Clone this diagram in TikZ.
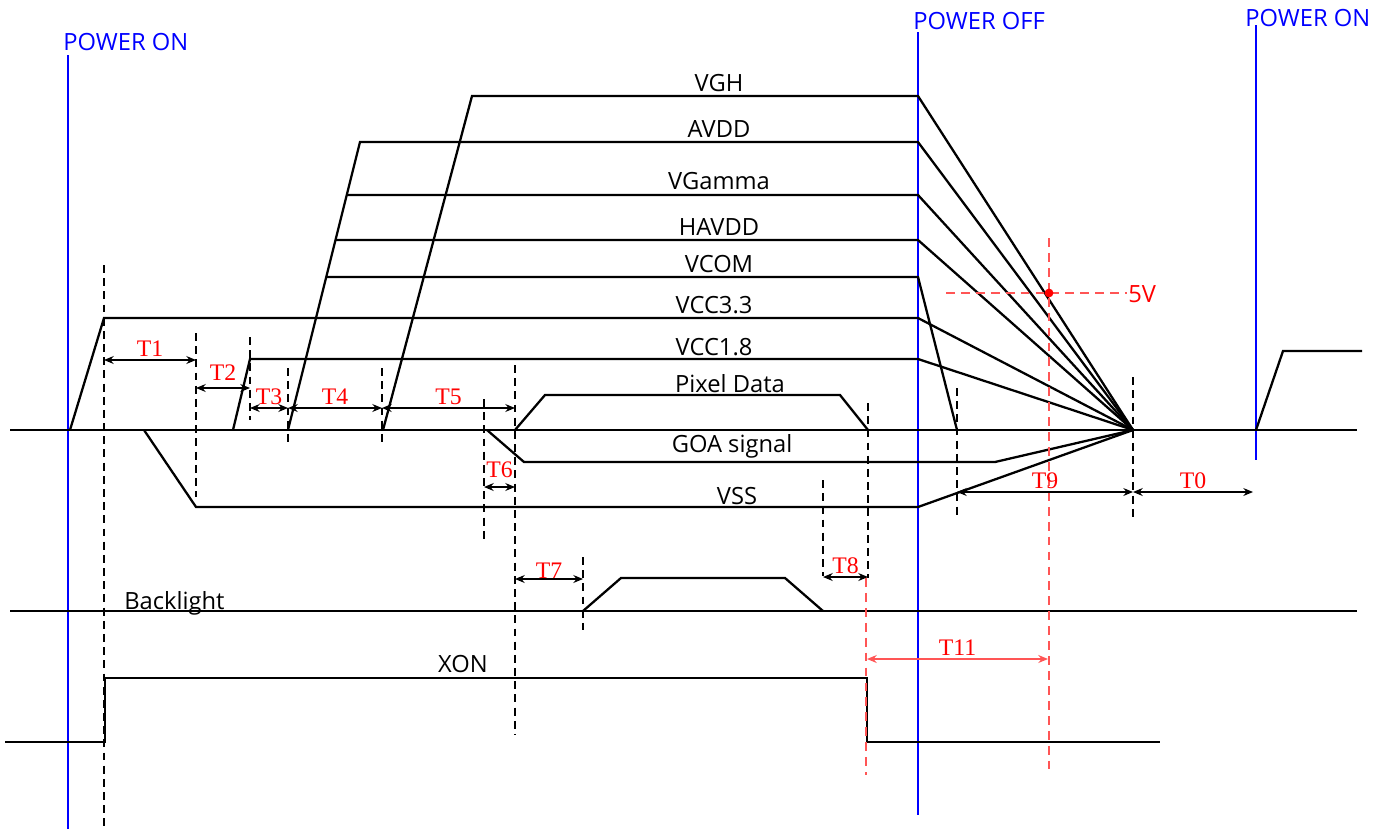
\documentclass[tikz,border=0pt]{standalone}
\usepackage{fontspec}
\usepackage{xcolor}
\usepackage{tikz}
\usetikzlibrary{arrows.meta, calc}
\newfontfamily\sigfont{Open Sans}
\newfontfamily\tfont{Liberation Serif}
\definecolor{pwrblue}{RGB}{0, 0, 255}
\definecolor{markred}{RGB}{255, 0, 0}
\definecolor{guidered}{RGB}{255, 85, 85}

\begin{document}
\begin{tikzpicture}[x=0.02cm, y=-0.02cm,
    sig/.style={line width=1.3pt, line join=miter},
    pwr/.style={pwrblue, line width=1.6pt},
    guide/.style={line width=0.6pt, dash pattern=on 4.5pt off 3pt},
    redguide/.style={guidered, line width=0.9pt, dash pattern=on 5pt off 3.5pt},
    dim/.style={{Stealth[length=5.5pt,width=4.5pt]}-{Stealth[length=5.5pt,width=4.5pt]}, line width=0.7pt},
    lbl/.style={font=\sigfont\fontsize{13.5}{16}\selectfont, inner sep=0pt},
    tlbl/.style={text=markred, font=\tfont\fontsize{13.5}{15}\selectfont, inner sep=0pt}]

    \useasboundingbox (0,0) rectangle (1389,829);

    % Power events (blue markers)
    \draw[pwr] (68,55) -- (68,829);
    \draw[pwr] (918,32) -- (918,815);
    \draw[pwr] (1256,25) -- (1256,460);
    \node[lbl, text=pwrblue, anchor=west] (onA) at (63,42) {POWER ON};
    \node[lbl, text=pwrblue, anchor=west] (off) at (913,21) {POWER OFF};
    \node[lbl, text=pwrblue, anchor=west] (onB) at (1245,18) {POWER ON};

    % Ground level and the point where all rails discharge to
    \coordinate (End) at (1133,430);
    \draw[sig] (10,430) -- (1357,430);

    % Supply rails
    \path (288,430) coordinate (avL) (360,142) coordinate (avT);
    \draw[sig] (383,430) -- (472,96) -- (918,96) -- (End);
    \draw[sig] (avL) -- (avT) -- (918,142) -- (End);
    \draw[sig] ($(avL)!0.816!(avT)$) -- (918,195) -- (End);
    \draw[sig] ($(avL)!0.660!(avT)$) -- (918,240) -- (End);
    \draw[sig] ($(avL)!0.531!(avT)$) -- (918,277) -- (957,430);
    \draw[sig] (70,430) -- (104,318) -- (918,318) -- (End);
    \draw[sig] (233,430) -- (250,359) -- (918,359) -- (End);
    \draw[sig] (487,430) -- (524,462) -- (995,462) -- (End);
    \draw[sig] (144,430) -- (196,507) -- (918,507) -- (End);
    \draw[sig] (515,430) -- (545,395) -- (840,395) -- (868,430);
    \draw[sig] (1256,430) -- (1283,351) -- (1362,351);

    \node[lbl] (vgh)   at (719,83)  {VGH};
    \node[lbl] (avdd)  at (719,129) {AVDD};
    \node[lbl] (vgam)  at (719,181) {VGamma};
    \node[lbl] (havdd) at (719,227) {HAVDD};
    \node[lbl] (vcom)  at (719,264) {VCOM};
    \node[lbl] (vcc33) at (714,305) {VCC3.3};
    \node[lbl] (vcc18) at (714,347) {VCC1.8};
    \node[lbl] (pix)   at (730,384) {Pixel Data};
    \node[lbl] (goa)   at (732,446) {GOA signal};
    \node[lbl] (vss)   at (737,496) {VSS};

    % Backlight and XON
    \draw[sig] (10,611) -- (1357,611);
    \draw[sig] (583,611) -- (621,578) -- (785,578) -- (823,611);
    \node[lbl, anchor=base west] (bl) at (124,609) {Backlight};
    \draw[sig] (5,742) -- (105,742) -- (105,678) -- (867,678) -- (867,742) -- (1160,742);
    \node[lbl] (xon) at (463,664) {XON};

    % Timing guides
    \foreach \x/\ya/\yb in {104/265/829, 196/333/497, 250/337/420, 288/368/443,
                            382/368/443, 484/399/542, 515/365/735, 583/557/630,
                            823/480/576, 868/403/578, 957/388/515, 1133/377/517}
        \draw[guide] (\x,\ya) -- (\x,\yb);
    \draw[redguide] (866,578) -- (866,775);
    \draw[redguide] (1049,238) -- (1049,775);
    \draw[redguide] (946,293) -- (1127,293);
    \fill[markred] (1049,293) circle (2.5pt);
    \node[lbl, text=markred, anchor=west] (fivev) at (1128,294) {5V};

    % Timing intervals
    \foreach \n/\xa/\xb/\y/\r in {1/104/196/360/1.8, 2/196/250/388/4, 3/250/288/408/1.8,
                                  4/288/382/408/1.8, 5/382/515/408/1.8, 6/484/515/487/5,
                                  7/515/583/579/0, 8/823/868/577/1.8, 9/957/1133/492/1.8,
                                  0/1133/1253/492/1.8} {
        \coordinate (T\n a) at (\xa,\y);
        \coordinate (T\n b) at (\xb,\y);
        \draw[dim] (T\n a) -- node[tlbl, above=\r pt] (lT\n) {T\n} (T\n b);
    }
    \coordinate (T11a) at (867,659);
    \coordinate (T11b) at (1048,659);
    \draw[dim, guidered, line width=0.9pt] (T11a) -- node[tlbl, above=1.8pt] (lT11) {T11} (T11b);
\end{tikzpicture}
\end{document}
